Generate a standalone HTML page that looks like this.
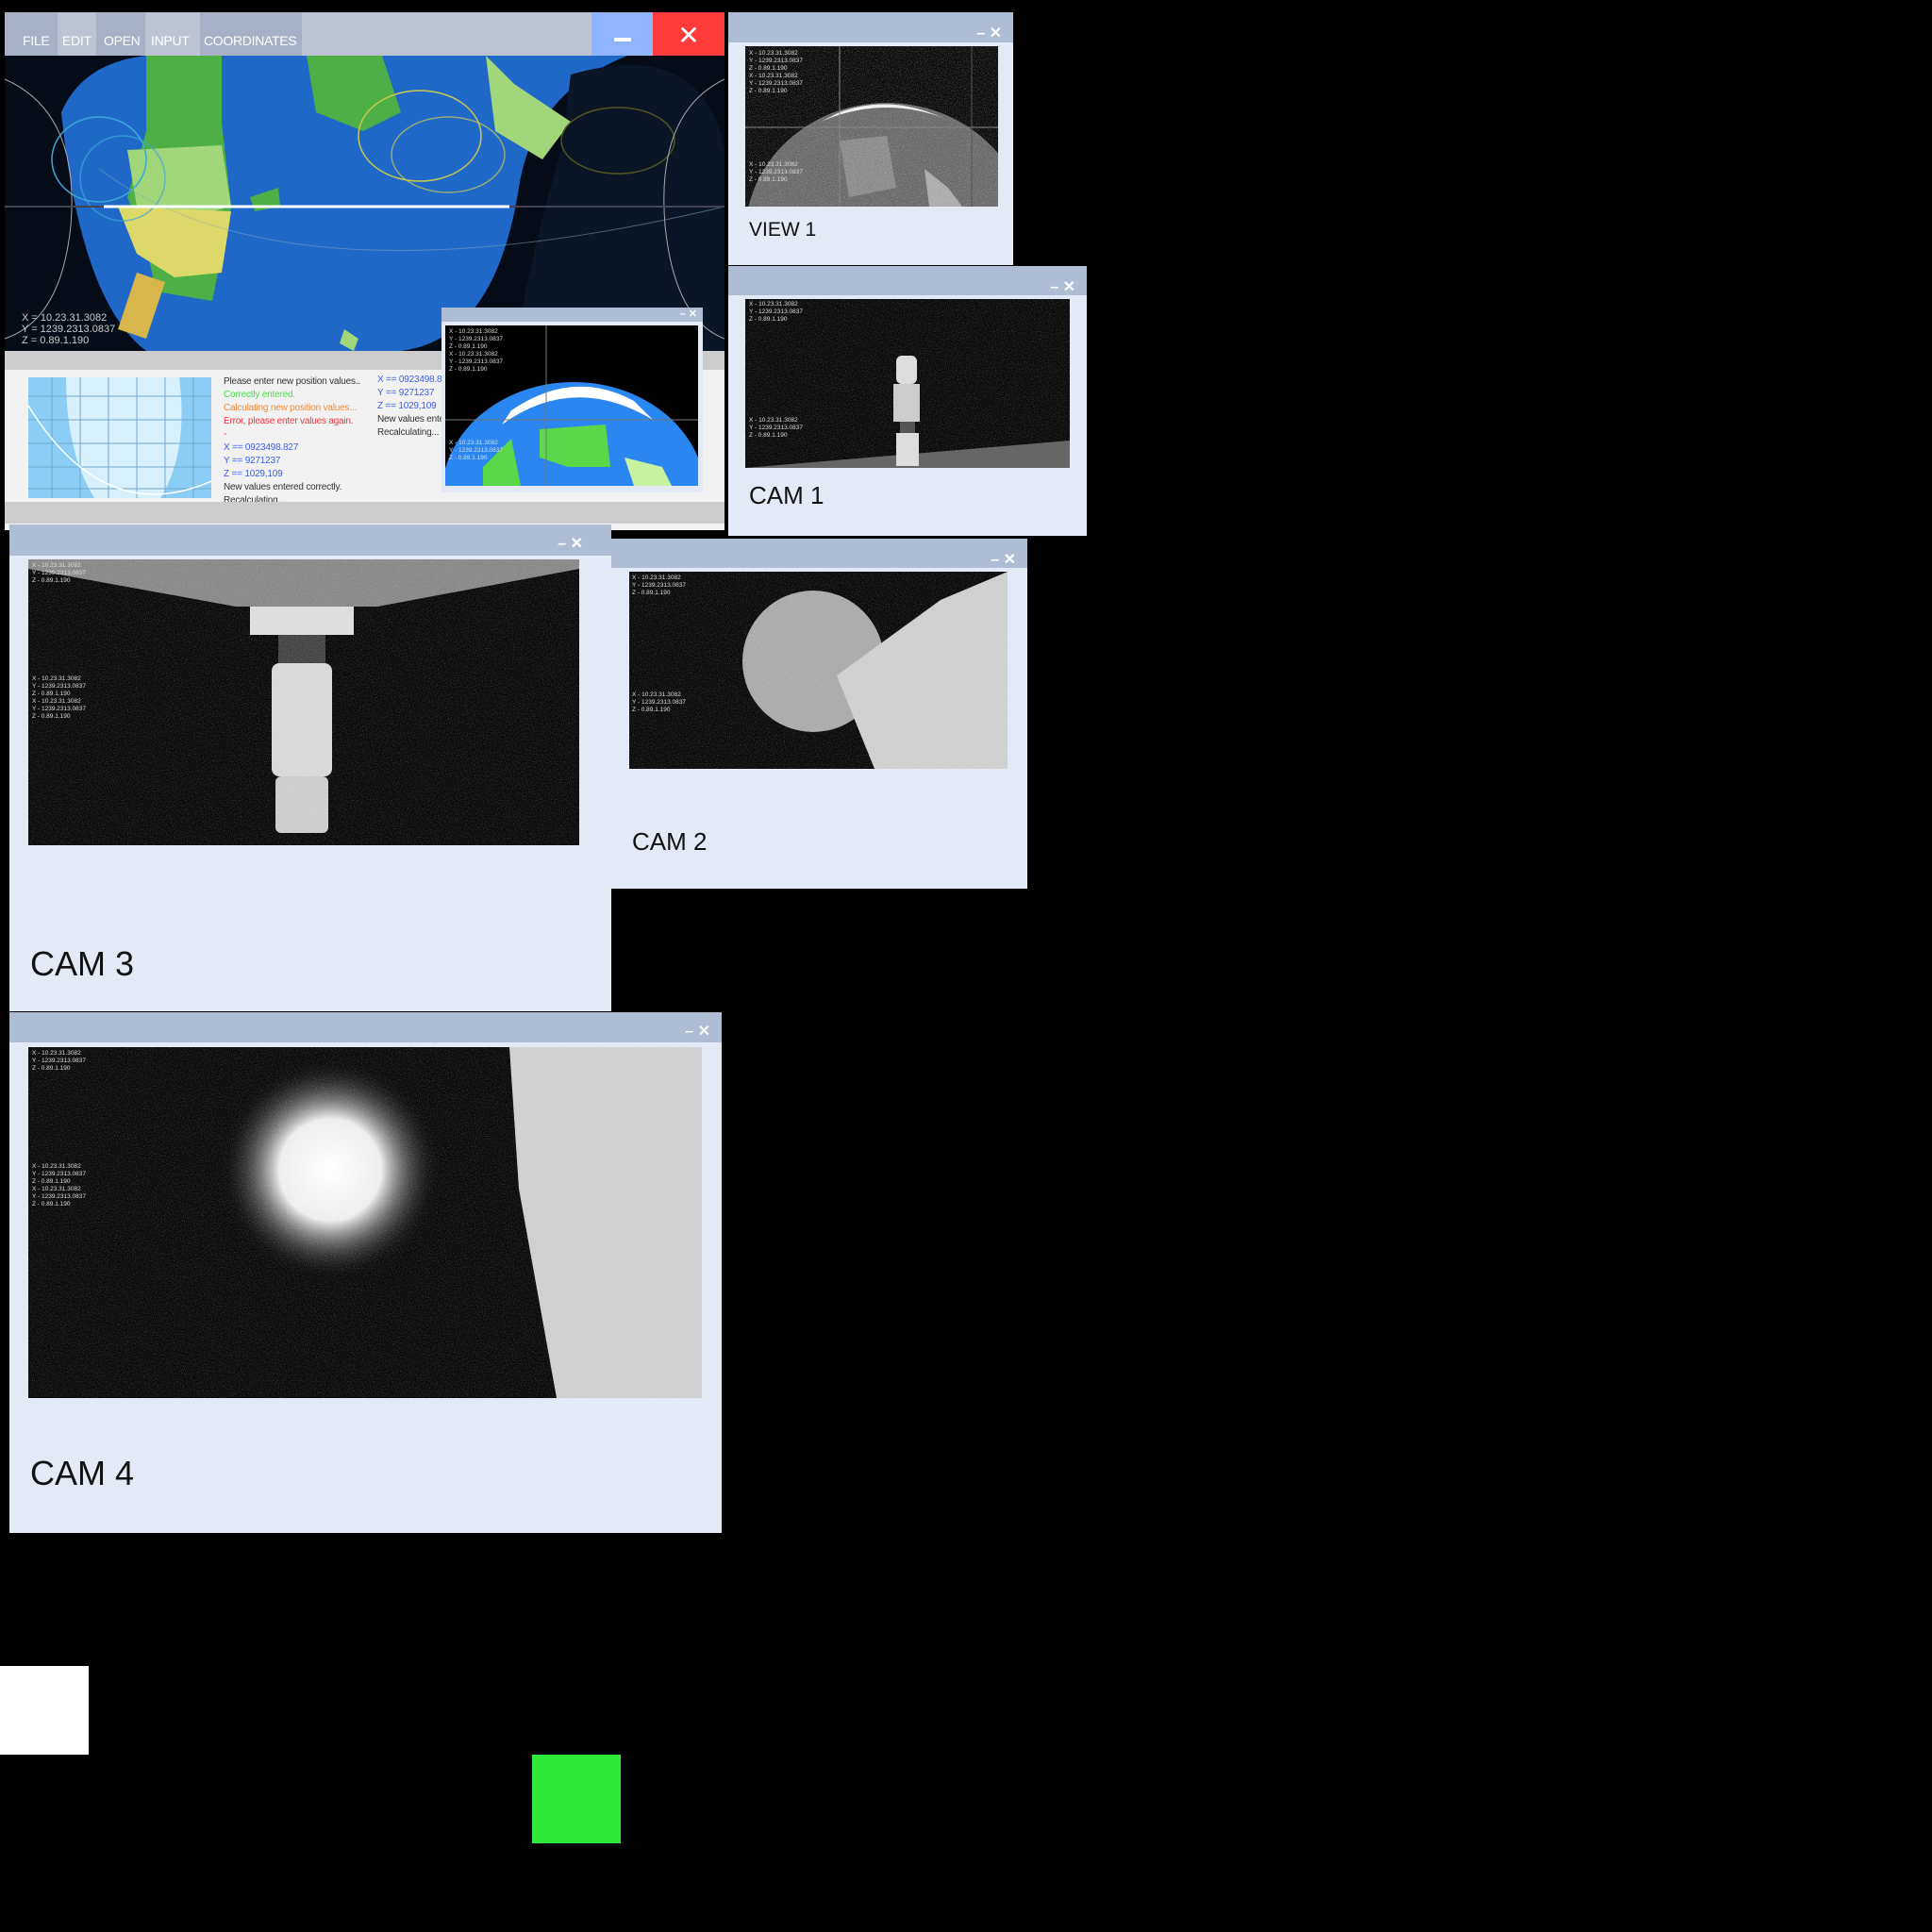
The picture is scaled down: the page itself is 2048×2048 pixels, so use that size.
<!DOCTYPE html>
<html><head><meta charset="utf-8">
<style>
body{margin:0;width:2048px;height:2048px;background:#000;position:relative;overflow:hidden;font-family:"Liberation Sans",sans-serif}
div{position:absolute;box-sizing:border-box}
.win{background:#e3eaf5}
.tb{left:0;right:0;top:0;background:#aebcd4}
.ctl{color:#fff;font-size:16px;font-weight:bold;right:12px;top:4px}
.lbl{color:#111}
.hud{color:#ddd;font-size:6.5px;line-height:8px;font-family:"Liberation Sans",sans-serif;white-space:pre}
.log{font-size:10px;line-height:14px;white-space:pre;letter-spacing:-0.2px}
.menu{color:#fff;font-size:14px;letter-spacing:-0.3px}
</style></head><body>
<svg width="0" height="0" style="position:absolute"><defs>
<filter id="noise"><feTurbulence type="fractalNoise" baseFrequency="0.9" numOctaves="1" seed="3"/><feColorMatrix values="0 0 0 0 1 0 0 0 0 1 0 0 0 0 1 0 0 0 1.6 -0.75"/></filter>
</defs></svg>

<div class="win" style="left:5px;top:13px;width:763px;height:549px;background:#f2f2f2">
 <div style="left:0;top:0;width:763px;height:46px;background:#bcc4d2"></div>
 <div class="menu" style="left:0;top:0;width:56px;height:46px;background:#a6b1c5;padding:22px 0 0 19px">FILE</div>
 <div class="menu" style="left:56px;top:0;width:41px;height:46px;background:#bcc4d2;padding:22px 0 0 5px">EDIT</div>
 <div class="menu" style="left:97px;top:0;width:52px;height:46px;background:#a6b1c5;padding:22px 0 0 8px">OPEN</div>
 <div class="menu" style="left:149px;top:0;width:58px;height:46px;background:#bcc4d2;padding:22px 0 0 6px">INPUT</div>
 <div class="menu" style="left:207px;top:0;width:108px;height:46px;background:#a6b1c5;padding:22px 0 0 4px">COORDINATES</div>
 <div style="left:622px;top:0;width:65px;height:46px;background:#90b4ff"><div style="left:24px;top:27px;width:18px;height:4px;background:#fff"></div></div>
 <div style="left:687px;top:0;width:76px;height:46px;background:#ff3b3b;color:#fff;font-size:28px;text-align:center;padding-top:8px">✕</div>
 <svg style="position:absolute;left:0;top:46px" width="763" height="313" viewBox="0 0 763 313">
  <rect width="763" height="313" fill="#050c18"/>
  <path d="M60 60 Q90 -10 200 0 L660 0 Q560 40 545 140 Q520 300 420 313 L150 313 Q80 260 60 60 Z" fill="#1f68c8"/>
  <path d="M600 20 Q740 -20 763 100 L763 313 L540 313 Q560 200 590 100 Z" fill="#0a1526"/>
  <path d="M150 0 L230 0 L230 70 L240 160 L220 260 L160 250 L150 200 L130 150 L150 80 Z" fill="#4daf45"/>
  <path d="M130 100 L230 95 L240 160 L200 170 L140 160 Z" fill="#a2d67a"/>
  <path d="M120 160 L240 165 L230 230 L180 235 L140 210 Z" fill="#dcd96a"/>
  <path d="M140 230 L170 240 L150 300 L120 290 Z" fill="#d9b64c"/>
  <path d="M320 0 L400 0 L420 60 L380 80 L330 60 Z" fill="#4daf45"/>
  <path d="M510 0 L540 30 L600 70 L570 110 L520 80 Z" fill="#a2d67a"/>
  <path d="M260 150 L290 140 L292 160 L265 165 Z" fill="#4daf45"/>
  <path d="M360 290 L375 300 L370 313 L355 305 Z" fill="#a2d67a"/>
  <ellipse cx="440" cy="85" rx="65" ry="48" fill="none" stroke="#c8c850" stroke-width="1.5"/>
  <ellipse cx="470" cy="105" rx="60" ry="40" fill="none" stroke="#c8c850" stroke-width="1.5" opacity=".7"/>
  <ellipse cx="100" cy="110" rx="50" ry="45" fill="none" stroke="#3aa8d8" stroke-width="1.5"/>
  <ellipse cx="125" cy="130" rx="45" ry="45" fill="none" stroke="#3aa8d8" stroke-width="1.5" opacity=".7"/>
  <ellipse cx="650" cy="90" rx="60" ry="35" fill="none" stroke="#555520" stroke-width="1.5"/>
  <path d="M0 25 Q80 60 70 180 Q60 280 0 300" fill="none" stroke="#aaa" stroke-width="1"/>
  <path d="M763 25 Q690 60 700 180 Q710 280 763 300" fill="none" stroke="#aaa" stroke-width="1"/>
  <path d="M100 120 Q300 270 763 160" fill="none" stroke="#8ab" stroke-width="1" opacity=".5"/>
  <line x1="0" y1="160" x2="763" y2="160" stroke="#445" stroke-width="2"/>
  <line x1="105" y1="160" x2="535" y2="160" stroke="#fff" stroke-width="3"/>
 </svg>
 <div class="hud" style="left:18px;top:318px;font-size:11px;line-height:12px;color:#ccc">X = 10.23.31.3082
Y = 1239.2313.0837
Z = 0.89.1.190</div>
 <div style="left:0;top:359px;width:763px;height:20px;background:#cccccc"></div>
 <div style="left:4px;top:379px;width:221px;height:140px;background:#f2f2f2">
  <svg style="position:absolute;left:21px;top:8px" width="194" height="128">
   <rect width="194" height="128" fill="#8ccdf5"/>
   <path d="M40 0 L160 0 Q170 80 140 128 L70 128 Q40 80 40 0Z" fill="#d8f0fc"/>
   <g stroke="#6fa9cc" stroke-width="1">
    <line x1="0" y1="20" x2="194" y2="20"/><line x1="0" y1="45" x2="194" y2="45"/><line x1="0" y1="70" x2="194" y2="70"/><line x1="0" y1="95" x2="194" y2="95"/><line x1="0" y1="118" x2="194" y2="118"/>
    <line x1="25" y1="0" x2="25" y2="128"/><line x1="55" y1="0" x2="55" y2="128"/><line x1="85" y1="0" x2="85" y2="128"/><line x1="115" y1="0" x2="115" y2="128"/><line x1="145" y1="0" x2="145" y2="128"/><line x1="175" y1="0" x2="175" y2="128"/>
   </g>
   <path d="M0 30 Q80 160 194 110" fill="none" stroke="#fff" stroke-width="1.5"/>
  </svg>
 </div>
 <div style="left:227px;top:379px;width:240px;height:140px;background:#f2f2f2;overflow:hidden">
  <div class="log" style="left:5px;top:6px;color:#333">Please enter new position values..</div>
  <div class="log" style="left:5px;top:20px;color:#4de24d">Correctly entered.</div>
  <div class="log" style="left:5px;top:34px;color:#f58a3c">Calculating new position values...</div>
  <div class="log" style="left:5px;top:48px;color:#f0363e">Error, please enter values again.</div>
  <div class="log" style="left:5px;top:62px;color:#f0363e">-</div>
  <div class="log" style="left:5px;top:76px;color:#3d5ef0">X == 0923498.827
Y == 9271237
Z == 1029,109</div>
  <div class="log" style="left:5px;top:118px;color:#333">New values entered correctly.
Recalculating...</div>
  <div class="log" style="left:168px;top:4px;color:#3d5ef0">X == 0923498.827
Y == 9271237
Z == 1029,109</div>
  <div class="log" style="left:168px;top:46px;color:#333">New values entered
Recalculating...</div>
 </div>
 <div style="left:0;top:519px;width:763px;height:23px;background:#cccccc"></div>
</div>

<div class="win" style="left:468px;top:326px;width:277px;height:196px">
 <div class="tb" style="height:15px"></div>
 <div class="ctl" style="font-size:11px;top:0;right:6px">–  ✕</div>
 <svg style="position:absolute;left:4px;top:19px" width="268" height="170">
  <rect width="268" height="170" fill="#000"/>
  <ellipse cx="136" cy="180" rx="140" ry="120" fill="#2a86f0"/>
  <path d="M60 105 Q136 50 220 100 L200 80 Q136 45 70 90Z" fill="#fff"/>
  <path d="M40 150 L70 120 L80 170 L40 170Z" fill="#5ad84a"/>
  <path d="M100 110 L170 105 L175 150 L130 150 L100 140Z" fill="#5ad84a"/>
  <path d="M190 140 L230 150 L240 170 L200 170Z" fill="#c8f2a0"/>
  <line x1="0" y1="100" x2="268" y2="100" stroke="#777"/><line x1="107" y1="0" x2="107" y2="170" stroke="#777"/>
 </svg>
 <div class="hud" style="left:8px;top:22px">X - 10.23.31.3082
Y - 1239.2313.0837
Z - 0.89.1.190
X - 10.23.31.3082
Y - 1239.2313.0837
Z - 0.89.1.190</div>
 <div class="hud" style="left:8px;top:140px">X - 10.23.31.3082
Y - 1239.2313.0837
Z - 0.89.1.190</div>
</div>

<div class="win" style="left:772px;top:13px;width:302px;height:268px">
 <div class="tb" style="height:32px"></div>
 <div class="ctl" style="top:12px">–  ✕</div>
 <svg style="position:absolute;left:18px;top:36px" width="268" height="170">
  <rect width="268" height="170" fill="#0c0c0c"/>
  <ellipse cx="150" cy="200" rx="150" ry="140" fill="#6a6a6a"/>
  <path d="M80 80 Q150 50 220 80 L200 72 Q150 52 100 70Z" fill="#eee"/>
  <path d="M100 100 L150 95 L160 150 L110 160Z" fill="#8a8a8a"/>
  <path d="M190 130 L215 150 L230 170 L195 170Z" fill="#aaa"/>
  <rect width="268" height="170" filter="url(#noise)" opacity=".5"/>
  <line x1="0" y1="86" x2="268" y2="86" stroke="#888"/><line x1="100" y1="0" x2="100" y2="170" stroke="#888"/><line x1="240" y1="0" x2="240" y2="170" stroke="#555"/>
 </svg>
 <div class="hud" style="left:22px;top:40px">X - 10.23.31.3082
Y - 1239.2313.0837
Z - 0.89.1.190
X - 10.23.31.3082
Y - 1239.2313.0837
Z - 0.89.1.190</div>
 <div class="hud" style="left:22px;top:158px">X - 10.23.31.3082
Y - 1239.2313.0837
Z - 0.89.1.190</div>
 <div class="lbl" style="left:22px;top:219px;font-size:21px">VIEW 1</div>
</div>

<div class="win" style="left:772px;top:282px;width:380px;height:286px">
 <div class="tb" style="height:31px"></div>
 <div class="ctl" style="top:12px">–  ✕</div>
 <svg style="position:absolute;left:18px;top:35px" width="344" height="179">
  <rect width="344" height="179" fill="#0a0a0a"/>
  <rect width="344" height="179" filter="url(#noise)" opacity=".35"/>
  <path d="M0 179 L344 150 L344 179Z" fill="#666"/>
  <rect x="160" y="60" width="22" height="30" rx="6" fill="#ddd"/>
  <rect x="157" y="90" width="28" height="40" fill="#ccc"/>
  <rect x="164" y="130" width="16" height="12" fill="#555"/>
  <rect x="160" y="142" width="24" height="35" fill="#ddd"/>
 </svg>
 <div class="hud" style="left:22px;top:37px">X - 10.23.31.3082
Y - 1239.2313.0837
Z - 0.89.1.190</div>
 <div class="hud" style="left:22px;top:160px">X - 10.23.31.3082
Y - 1239.2313.0837
Z - 0.89.1.190</div>
 <div class="lbl" style="left:22px;top:228px;font-size:26px">CAM 1</div>
</div>

<div class="win" style="left:10px;top:556px;width:638px;height:516px">
 <div class="tb" style="height:33px"></div>
 <div class="ctl" style="top:10px;right:30px">–  ✕</div>
 <svg style="position:absolute;left:20px;top:37px" width="584" height="303">
  <rect width="584" height="303" fill="#0a0a0a"/>
  <path d="M0 0 L584 0 L584 10 L370 50 L220 50 L0 10Z" fill="#888"/>
  <rect x="235" y="50" width="110" height="30" fill="#ddd"/>
  <rect x="265" y="80" width="50" height="30" fill="#444"/>
  <rect x="258" y="110" width="64" height="120" rx="8" fill="#d8d8d8"/>
  <rect x="262" y="230" width="56" height="60" rx="6" fill="#ccc"/>
  <rect width="584" height="303" filter="url(#noise)" opacity=".35"/>
 </svg>
 <div class="hud" style="left:24px;top:40px">X - 10.23.31.3082
Y - 1239.2313.0837
Z - 0.89.1.190</div>
 <div class="hud" style="left:24px;top:160px">X - 10.23.31.3082
Y - 1239.2313.0837
Z - 0.89.1.190
X - 10.23.31.3082
Y - 1239.2313.0837
Z - 0.89.1.190</div>
 <div class="lbl" style="left:22px;top:445px;font-size:36px">CAM 3</div>
</div>

<div class="win" style="left:648px;top:571px;width:441px;height:371px">
 <div class="tb" style="height:31px"></div>
 <div class="ctl" style="top:12px">–  ✕</div>
 <svg style="position:absolute;left:19px;top:35px" width="401" height="209">
  <rect width="401" height="209" fill="#0a0a0a"/>
  <circle cx="195" cy="95" r="75" fill="#aaa"/>
  <path d="M260 209 L220 110 L330 30 L401 0 L401 209Z" fill="#cfcfcf"/>
  <rect width="401" height="209" filter="url(#noise)" opacity=".35"/>
 </svg>
 <div class="hud" style="left:22px;top:38px">X - 10.23.31.3082
Y - 1239.2313.0837
Z - 0.89.1.190</div>
 <div class="hud" style="left:22px;top:162px">X - 10.23.31.3082
Y - 1239.2313.0837
Z - 0.89.1.190</div>
 <div class="lbl" style="left:22px;top:306px;font-size:26px">CAM 2</div>
</div>

<div class="win" style="left:10px;top:1073px;width:755px;height:552px">
 <div class="tb" style="height:32px"></div>
 <div class="ctl" style="top:10px">–  ✕</div>
 <svg style="position:absolute;left:20px;top:37px" width="714" height="372">
  <defs><radialGradient id="sun"><stop offset="0" stop-color="#fff"/><stop offset=".45" stop-color="#eee"/><stop offset="1" stop-color="#000" stop-opacity="0"/></radialGradient></defs>
  <rect width="714" height="372" fill="#0a0a0a"/>
  <circle cx="320" cy="130" r="120" fill="url(#sun)"/>
  <path d="M510 0 L714 0 L714 372 L560 372 L520 150Z" fill="#cfcfcf"/>
  <rect width="714" height="372" filter="url(#noise)" opacity=".35"/>
 </svg>
 <div class="hud" style="left:24px;top:40px">X - 10.23.31.3082
Y - 1239.2313.0837
Z - 0.89.1.190</div>
 <div class="hud" style="left:24px;top:160px">X - 10.23.31.3082
Y - 1239.2313.0837
Z - 0.89.1.190
X - 10.23.31.3082
Y - 1239.2313.0837
Z - 0.89.1.190</div>
 <div class="lbl" style="left:22px;top:468px;font-size:36px">CAM 4</div>
</div>

<div style="left:0;top:1766px;width:94px;height:94px;background:#fff"></div>
<div style="left:564px;top:1860px;width:94px;height:94px;background:#2fe837"></div>
</body></html>
